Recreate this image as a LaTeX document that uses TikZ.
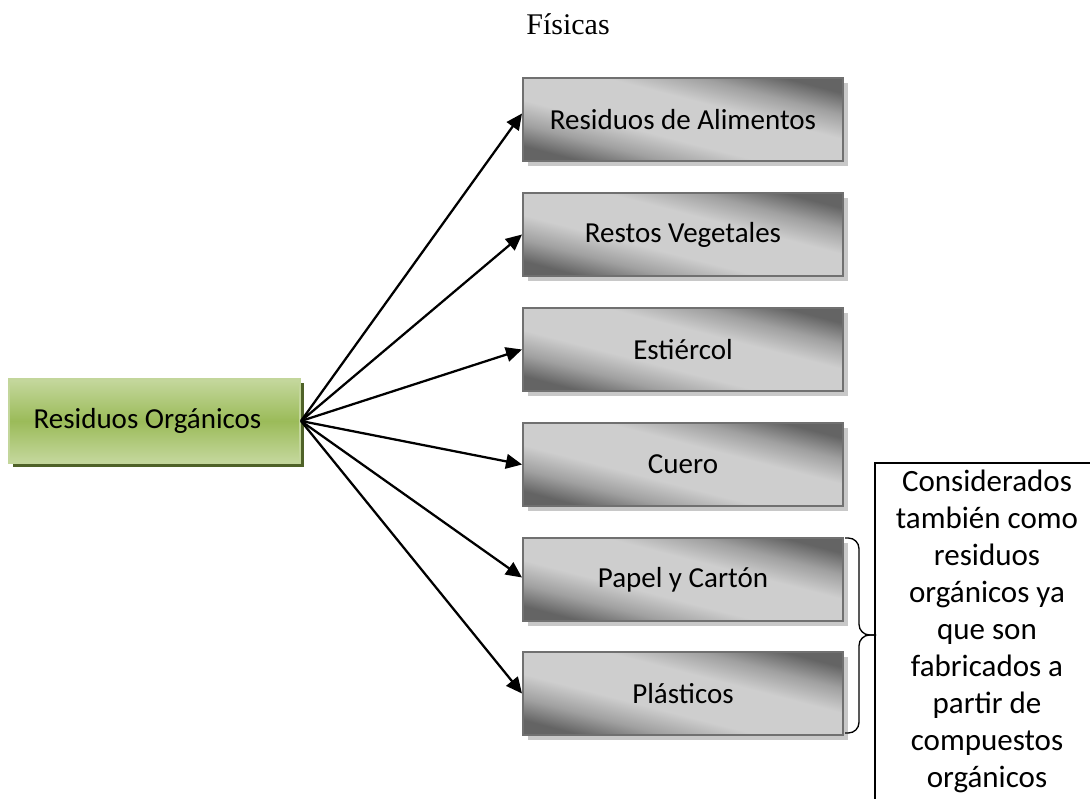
\documentclass[tikz,border=0pt]{standalone}
\usepackage{fontspec}
\newfontfamily\boxfont{Carlito}
\newfontfamily\titlefont{Liberation Serif}
\usetikzlibrary{shadows,arrows.meta,calc}
\definecolor{graydark}{RGB}{100,100,100}
\definecolor{graymid}{RGB}{160,160,160}
\definecolor{graylight}{RGB}{206,206,206}
\definecolor{grayedge}{RGB}{112,112,112}
\definecolor{grayshadow}{RGB}{200,200,200}
\definecolor{greenlight}{RGB}{197,216,158}
\definecolor{greenmid}{RGB}{155,187,89}
\definecolor{greenedge}{RGB}{195,214,155}
\definecolor{greenshadow}{RGB}{79,98,40}

% metallic diagonal fill: dark ends, broad light centre
\pgfdeclareverticalshading{steel}{100bp}{%
  color(0bp)=(graydark); color(25bp)=(graydark); color(33bp)=(graymid);
  color(42bp)=(graylight); color(58bp)=(graylight); color(67bp)=(graymid);
  color(75bp)=(graydark); color(100bp)=(graydark)}

\begin{document}
\begin{tikzpicture}[x=0.75pt,y=-0.75pt,
  category/.style={draw=grayedge, line width=1.5pt,
    minimum width=240pt, minimum height=62.25pt, inner sep=0pt,
    shade, shading=steel, shading angle=-14.5,
    drop shadow={shadow xshift=3.75pt, shadow yshift=-3.75pt,
      fill=grayshadow, opacity=1},
    font=\boxfont\fontsize{21.75pt}{26pt}\selectfont},
  rootbox/.style={draw=greenedge, line width=1.5pt,
    minimum width=218.25pt, minimum height=63pt, inner sep=0pt,
    top color=greenlight, bottom color=greenlight, middle color=greenmid,
    drop shadow={shadow xshift=3pt, shadow yshift=-3pt,
      fill=greenshadow, opacity=1},
    font=\boxfont\fontsize{21.75pt}{26pt}\selectfont},
  link/.style={line width=1.7pt, -{Triangle[length=12pt,width=11pt]}},
  notetext/.style={align=center, inner sep=0pt,
    font=\boxfont\fontsize{23.25pt}{27.75pt}\selectfont}
]
\useasboundingbox (0,0) rectangle (1090,799);

% heading
\node[anchor=base, font=\titlefont\fontsize{22.5pt}{27pt}\selectfont]
  (title) at (568,35) {Físicas};

% source category
\node[rootbox] (root) at (154.5,421) {Residuos Orgánicos\hspace*{10.5pt}};

% sub-categories
\node[category] (b1) at (683,119.5) {Residuos de Alimentos};
\node[category] (b2) at (683,234.5) {Restos Vegetales};
\node[category] (b3) at (683,349.5) {Estiércol};
\node[category] (b4) at (683,464.5) {Cuero};
\node[category] (b5) at (683,579.5) {Papel y Cartón};
\node[category] (b6) at (683,693.5) {Plásticos};

% connectors
\draw[link] (root.east) -- ($(b1.west)+(0,-6)$);
\draw[link] (root.east) -- (b2.west);
\draw[link] (root.east) -- (b3.west);
\draw[link] (root.east) -- (b4.west);
\draw[link] (root.east) -- ($(b5.west)+(0,-2)$);
\draw[link] (root.east) -- (b6.west);

% brace grouping the last two categories
\coordinate (btop) at (845,538);
\coordinate (bbot) at (845,733);
\coordinate (btip) at (876,635);
\draw[line width=1pt, rounded corners=8pt]
  (btop) -- (859,538) -- (859,635) -- (btip);
\draw[line width=1pt, rounded corners=8pt]
  (bbot) -- (859,733) -- (859,635) -- (btip);

% explanatory note, its frame running off the right and bottom edges
\coordinate (notecorner) at (875,463);
\draw[line width=1.5pt] (notecorner |- 0,799) -- (notecorner) -- (notecorner -| 1090,0);
\node[notetext, anchor=north] (notetxt) at (987,470)
  {Considerados\\también como\\residuos\\orgánicos ya\\que son\\fabricados a\\partir de\\compuestos\\orgánicos};
\end{tikzpicture}
\end{document}
